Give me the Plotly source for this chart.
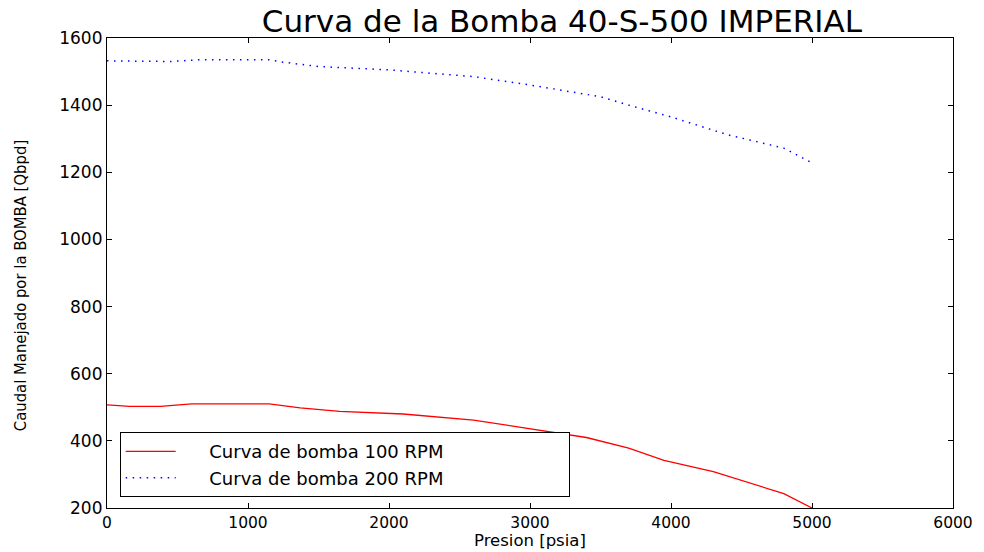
import plotly.graph_objects as go

red_x = [0, 160, 380, 600, 1150, 1370, 1650, 2100, 2600, 3000, 3400, 3700, 3950, 4300, 4800, 5000]
red_y = [507, 503, 503, 510, 510, 498, 488, 480, 462, 435, 410, 378, 342, 308, 243, 200]

blue_x = [0, 450, 650, 1150, 1250, 1500, 2000, 2600, 3000, 3500, 3700, 4000, 4400, 4800, 5000]
blue_y = [1532, 1530, 1535, 1535, 1528, 1515, 1505, 1485, 1460, 1425, 1400, 1365, 1312, 1272, 1228]

x_ticks = [0, 1000, 2000, 3000, 4000, 5000, 6000]
y_ticks = [200, 400, 600, 800, 1000, 1200, 1400, 1600]

names = ["Curva de bomba 100 RPM", "Curva de bomba 200 RPM"]

font = "DejaVu Sans"
pad_l = "\u00a0" * 5
pad_r = "\u00a0" * 21

fig = go.Figure()
fig.add_trace(go.Scatter(x=red_x, y=red_y, mode="lines", name=pad_l + names[0] + pad_r,
                         line=dict(color="#ff0000", width=1.3)))
fig.add_trace(go.Scatter(x=blue_x, y=blue_y, mode="lines", name=pad_l + names[1] + pad_r,
                         line=dict(color="#0000ff", width=1.5, dash="1.5px,5.5px")))

axis_common = dict(showgrid=False, zeroline=False, showline=True, linecolor="black", linewidth=1.2,
                   mirror="ticks", ticks="inside", ticklen=5, tickcolor="black", automargin=False)

fig.update_layout(
    width=984, height=552,
    margin=dict(l=107, r=31, t=38, b=44),
    paper_bgcolor="white", plot_bgcolor="white",
    title=dict(text="Curva de la Bomba 40-S-500 IMPERIAL", x=0.571, xanchor="center",
               y=0.962, yanchor="middle", font=dict(family=font, size=31, color="black")),
    xaxis=dict(range=[0, 6000], tickvals=x_ticks,
               tickfont=dict(family=font, size=15.5, color="black"), **axis_common),
    yaxis=dict(range=[200, 1600], tickvals=y_ticks,
               tickfont=dict(family=font, size=17, color="black"), **axis_common),
    legend=dict(x=0.015, y=0.023, xanchor="left", yanchor="bottom",
                bordercolor="black", borderwidth=1, bgcolor="white", itemwidth=50,
                font=dict(family=font, size=18, color="black"), tracegroupgap=0),
    showlegend=True,
    annotations=[
        dict(text="Caudal Manejado por la BOMBA [Qbpd]", xref="paper", yref="paper",
             x=-0.1028, y=0.472, xanchor="center", yanchor="middle", textangle=-90,
             showarrow=False,
             font=dict(family="DejaVu Sans Condensed, DejaVu Sans", size=16.5, color="black")),
        dict(text="Presion [psia]", xref="paper", yref="paper",
             x=0.5, y=-0.0915, xanchor="center", yanchor="bottom", showarrow=False,
             borderpad=0, font=dict(family=font, size=16.5, color="black")),
    ],
)

fig.write_html("out.html")
